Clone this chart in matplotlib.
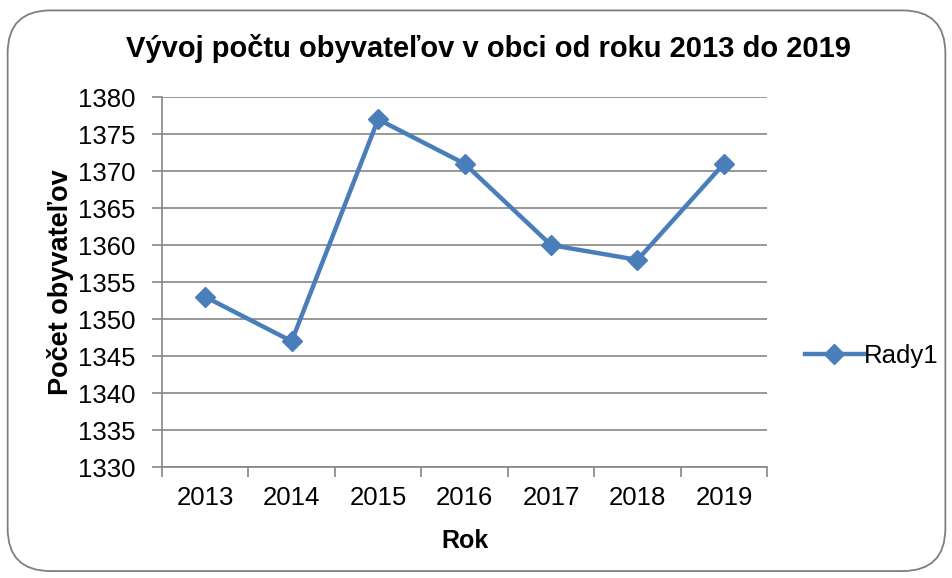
import matplotlib
matplotlib.use("Agg")
import matplotlib.pyplot as plt
from matplotlib.patches import FancyBboxPatch
from matplotlib.lines import Line2D

years = ["2013", "2014", "2015", "2016", "2017", "2018", "2019"]
population = [1353, 1347, 1377, 1371, 1360, 1358, 1371]
y_ticks = [1330, 1335, 1340, 1345, 1350, 1355, 1360, 1365, 1370, 1375, 1380]

plt.rcParams["font.family"] = ["Liberation Sans", "DejaVu Sans"]

blue = "#4A7EBB"
grid_col = "#868686"

fig = plt.figure(figsize=(9.53, 5.78), dpi=100)
border = FancyBboxPatch((0.008, 0.012), 0.984, 0.97, boxstyle="round,pad=0,rounding_size=0.045",
                        transform=fig.transFigure, fill=False, edgecolor="#7f7f7f", linewidth=1.3,
                        mutation_aspect=953 / 578)
fig.patches.append(border)

ax = fig.add_axes([0.170, 0.192, 0.635, 0.640])
x = list(range(len(years)))
ax.plot(x, population, color=blue, linewidth=3.2, marker="D", markersize=10,
        markerfacecolor=blue, markeredgecolor=blue, label="Rady1")

ax.set_xlim(-0.5, len(years) - 0.5)
ax.set_ylim(1330, 1380)
ax.set_yticks(y_ticks)
ax.yaxis.grid(True, color=grid_col, linewidth=1.2)
ax.set_axisbelow(True)

ax.set_xticks([i - 0.5 for i in range(len(years) + 1)])
ax.set_xticklabels([])
ax.set_xticks(x, minor=True)
ax.set_xticklabels(years, minor=True)
ax.tick_params(axis="x", which="major", length=7, width=1.2, color=grid_col, direction="out")
ax.tick_params(axis="x", which="minor", length=0, labelsize=18.5, pad=14)
ax.tick_params(axis="y", length=7, width=1.2, color=grid_col, labelsize=18.5, pad=12)

for side in ["top", "right"]:
    ax.spines[side].set_visible(False)
for side in ["left", "bottom"]:
    ax.spines[side].set_color(grid_col)
    ax.spines[side].set_linewidth(1.2)

ax.set_xlabel("Rok", fontsize=18, fontweight="bold", labelpad=13)
ax.set_ylabel("Počet obyvateľov", fontsize=19.5, fontweight="bold", labelpad=3)
fig.text(0.513, 0.916, "Vývoj počtu obyvateľov v obci od roku 2013 do 2019",
         ha="center", va="center", fontsize=21, fontweight="bold")

handle = Line2D([], [], color=blue, linewidth=3.2, marker="D", markersize=10)
fig.legend([handle], ["Rady1"], loc="center left", bbox_to_anchor=(0.831, 0.384),
           frameon=False, fontsize=18.5, handlelength=2.3, handletextpad=0.0, borderpad=0)

fig.savefig("out.png", dpi=100)
